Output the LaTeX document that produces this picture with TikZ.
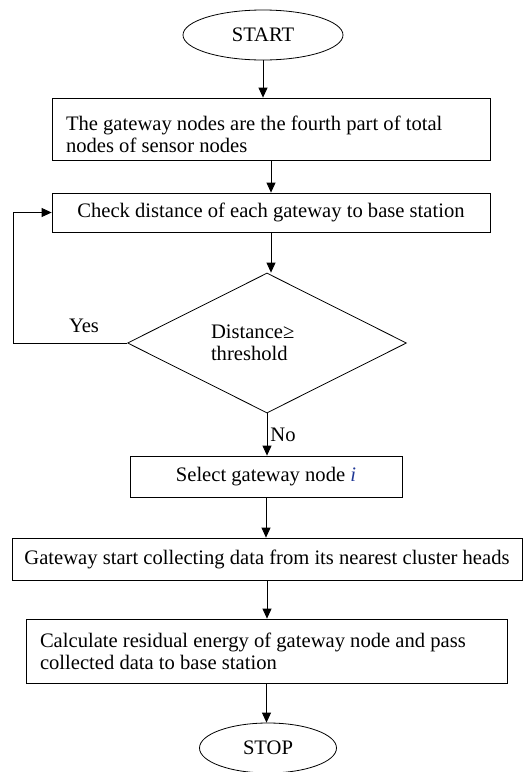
\documentclass[tikz,border=0pt]{standalone}
\usepackage{fontspec}
\setmainfont{Liberation Serif}
\usetikzlibrary{arrows.meta,shapes.geometric}
\definecolor{ivar}{RGB}{32,56,150}
\tikzset{
	box/.style={draw, line width=0.8pt, rectangle, inner sep=0pt},
	term/.style={draw, line width=0.8pt, ellipse, inner sep=0pt},
	flow/.style={line width=0.8pt, -{Triangle[length=10pt,width=9pt]}}
}

\begin{document}
\begin{tikzpicture}[x=1pt, y=-1pt, font=\fontsize{20.6}{22}\selectfont]
			%%%%% START %%%%%
			
			\useasboundingbox (0, 0) rectangle (523, 772);
			
			\node[term, minimum width=160pt, minimum height=50pt] (start) at (263, 35) {START};
			\node[box, minimum width=438pt, minimum height=62pt, text width=410pt, align=flush left] (share) at (271, 129) {\rule{0pt}{31pt}The gateway nodes are the fourth part of total\\nodes of sensor nodes\rule[-6pt]{0pt}{6pt}};
			\node[box, minimum width=438pt, minimum height=39pt, align=center] (check) at (271, 212.5) {Check distance of each gateway to base station};
			\node[draw, line width=0.8pt, diamond, aspect=2, inner sep=0pt, minimum width=279pt, minimum height=140pt, text width=112pt, align=flush left] (dist) at (267, 343) {Distance≥\\threshold};
			\node[box, minimum width=272pt, minimum height=41pt, align=center] (select) at (266, 476.5) {Select gateway node \textcolor{ivar}{\textit{i}}};
			\node[box, minimum width=510pt, minimum height=42pt, align=center] (collect) at (267, 559) {Gateway start collecting data from its nearest cluster heads};
			\node[box, minimum width=481pt, minimum height=64pt, text width=453pt, align=flush left] (energy) at (266.5, 651) {\rule{0pt}{20pt}Calculate residual energy of gateway node and pass\\collected data to base station\rule[-6pt]{0pt}{6pt}};
			\node[term, minimum width=137pt, minimum height=50pt] (stop) at (268, 748) {STOP};
			
			\draw[flow] (start.south) -- (start.south |- share.north);
			\draw[flow] (share.south) -- (share.south |- check.north);
			\draw[flow] (check.south) -- (check.south |- dist.north);
			\draw[flow] (dist.south) -- (dist.south |- select.north);
			\draw[flow] (select.south) -- (select.south |- collect.north);
			\draw[flow] (collect.south) -- (collect.south |- energy.north);
			\draw[flow] (energy.south) -- (energy.south |- stop.north);
			
			% yes branch back to the distance check
			\coordinate (back) at (13, 343);
			\draw[flow] (dist.west) -- (back) |- (check.west);
			\node (yes) at (84, 326) {Yes};
			\node (no) at (283, 435) {No};
			
			%%%%% END %%%%%
		\end{tikzpicture}
\end{document}
